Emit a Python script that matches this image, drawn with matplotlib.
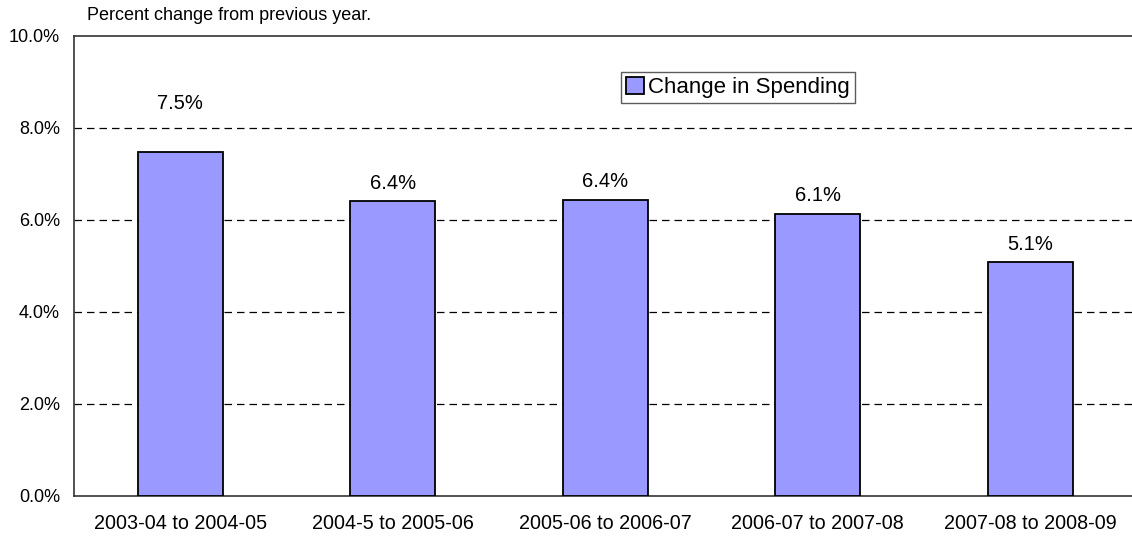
import matplotlib
matplotlib.use("Agg")
import matplotlib.pyplot as plt

plt.rcParams["font.family"] = ["Liberation Sans", "DejaVu Sans"]

periods = ["2003-04 to 2004-05", "2004-5 to 2005-06", "2005-06 to 2006-07",
           "2006-07 to 2007-08", "2007-08 to 2008-09"]
spending_change = [7.48, 6.41, 6.44, 6.14, 5.09]
series_name = "Change in Spending"
yticks = [0, 2, 4, 6, 8, 10]

# first label lifted clear of the 8% gridline
label_lift = [28, 6, 6, 6, 6]

fig = plt.figure(figsize=(11.32, 5.37), dpi=100)
ax = fig.add_axes([74 / 1132, 41 / 537, 1062.5 / 1132, 460 / 537])

x = range(len(periods))
bars = ax.bar(x, spending_change, width=0.4, color="#9999FF", edgecolor="black",
              linewidth=1.3, label=series_name, zorder=3)
for xi, v, dy in zip(x, spending_change, label_lift):
    ax.annotate(f"{v:.1f}%", (xi, v), xytext=(0, dy), textcoords="offset points",
                ha="center", va="bottom", fontsize=14.5)

ax.set_xlim(-0.5, 4.5)
ax.set_ylim(0, 10)
ax.set_yticks(yticks)
ax.set_yticklabels([f"{t:.1f}%" for t in yticks], fontsize=13)
ax.set_xticks(list(x))
ax.set_xticklabels(periods, fontsize=14.2)
ax.tick_params(axis="both", length=0)
ax.tick_params(axis="y", pad=10)
ax.tick_params(axis="x", pad=13)

for t in yticks[1:-1]:
    ax.axhline(t, color="black", lw=0.9, ls=(0, (6, 4)), zorder=1)

for side in ("left", "bottom", "top"):
    ax.spines[side].set_color("#333333")
    ax.spines[side].set_linewidth(1.2)
ax.spines["right"].set_visible(False)

leg = ax.legend(loc="upper left", bbox_to_anchor=((621 - 74) / 1062.5, (496 - 72) / 460),
                fontsize=16, frameon=True, fancybox=False, borderpad=0.22,
                handlelength=0.8, handleheight=0.8, handletextpad=0.2,
                borderaxespad=0)
leg.get_frame().set_edgecolor("#333333")
leg.get_frame().set_linewidth(1.0)

fig.text(87 / 1132, 1 - 16 / 537, "Percent change from previous year.",
         fontsize=13, ha="left", va="center")

fig.savefig("out.png", dpi=100)
